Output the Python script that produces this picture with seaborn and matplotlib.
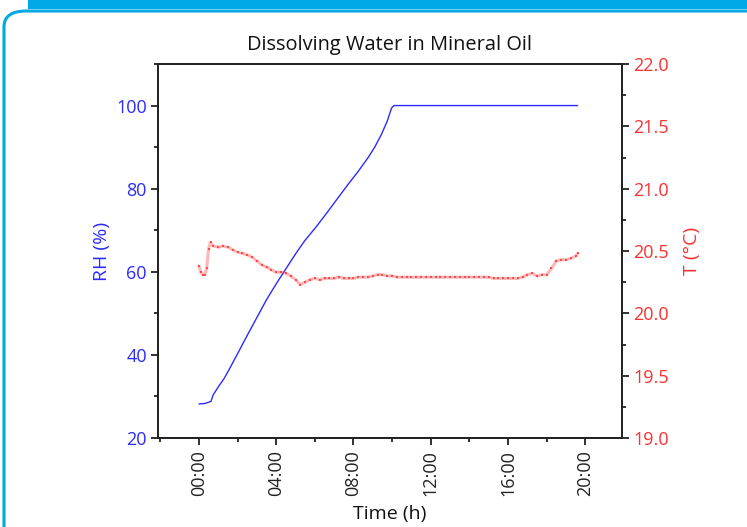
import matplotlib
matplotlib.use("Agg")
import matplotlib.pyplot as plt
from matplotlib.patches import FancyBboxPatch, Rectangle
from matplotlib.ticker import MultipleLocator, FuncFormatter
import numpy as np
import pandas as pd
import seaborn as sns

# Relative humidity of the oil (%) over elapsed time (h)
rh_time = [0.00, 0.30, 0.62, 0.74, 1.00, 1.30, 1.60, 2.00, 2.50, 3.00, 3.50,
           4.00, 4.50, 5.00, 5.48, 6.10, 6.69, 7.20, 7.73, 8.25, 8.76, 9.10,
           9.45, 9.75, 9.97, 10.10, 12.00, 14.00, 16.00, 18.00, 19.60]
rh_value = [28.2, 28.3, 28.8, 30.4, 32.3, 34.3, 36.8, 40.3, 44.7, 49.0, 53.3,
            57.1, 60.7, 64.3, 67.5, 71.0, 74.6, 77.8, 81.1, 84.2, 87.5, 90.0,
            93.1, 96.3, 99.4, 100.0, 100.0, 100.0, 100.0, 100.0, 100.0]

# Oil temperature (°C) over elapsed time (h)
t_time = [0.00, 0.10, 0.20, 0.30, 0.40, 0.50, 0.60, 0.75, 1.00, 1.25, 1.50,
          1.75, 2.00, 2.25, 2.50, 2.75, 3.00, 3.25, 3.50, 3.75, 4.00, 4.25,
          4.50, 4.75, 5.00, 5.25, 5.50, 5.75, 6.00, 6.25, 6.50, 6.75, 7.00,
          7.25, 7.50, 7.75, 8.00, 8.25, 8.50, 8.75, 9.00, 9.25, 9.50, 9.75,
          10.00, 10.25, 10.50, 10.75, 11.00, 11.25, 11.50, 11.75, 12.00,
          12.25, 12.50, 12.75, 13.00, 13.25, 13.50, 13.75, 14.00, 14.25,
          14.50, 14.75, 15.00, 15.25, 15.50, 15.75, 16.00, 16.25, 16.50,
          16.75, 17.00, 17.25, 17.50, 17.75, 18.00, 18.25, 18.50, 18.75,
          19.00, 19.25, 19.50, 19.60]
t_value = [20.38, 20.33, 20.31, 20.31, 20.36, 20.52, 20.57, 20.54, 20.53,
           20.54, 20.53, 20.51, 20.49, 20.48, 20.47, 20.45, 20.42, 20.39,
           20.37, 20.35, 20.33, 20.33, 20.32, 20.30, 20.27, 20.23, 20.25,
           20.27, 20.28, 20.27, 20.28, 20.28, 20.28, 20.29, 20.28, 20.28,
           20.28, 20.29, 20.29, 20.29, 20.30, 20.31, 20.31, 20.30, 20.30,
           20.29, 20.29, 20.29, 20.29, 20.29, 20.29, 20.29, 20.29, 20.29,
           20.29, 20.29, 20.29, 20.29, 20.29, 20.29, 20.29, 20.29, 20.29,
           20.29, 20.29, 20.28, 20.28, 20.28, 20.28, 20.28, 20.28, 20.29,
           20.31, 20.32, 20.30, 20.31, 20.31, 20.36, 20.42, 20.43, 20.43,
           20.44, 20.46, 20.48]

x_ticks = [0, 4, 8, 12, 16, 20]

BLUE = "#2b2bff"
RED = "#ff3030"
FRAME = "#00a9e6"
SPINE = "#222222"

sns.set_style("ticks")
plt.rcParams["font.family"] = ["Open Sans", "DejaVu Sans"]

rh_df = pd.DataFrame({"time": rh_time, "rh": rh_value})
t_df = pd.DataFrame({"time": t_time, "temp": t_value})

fig = plt.figure(figsize=(7.47, 5.27), dpi=100)
ax = fig.add_axes([158 / 747, 1 - 438 / 527, (622 - 158) / 747, (438 - 64) / 527])
ax2 = ax.twinx()

sns.lineplot(data=rh_df, x="time", y="rh", ax=ax, color=BLUE, linewidth=1.0)
# temperature readings: faint thick trace with small square samples on top
sns.lineplot(data=t_df, x="time", y="temp", ax=ax2, color=RED, linewidth=2.2,
             alpha=0.35)
sns.lineplot(data=t_df, x="time", y="temp", ax=ax2, color=RED, linewidth=0,
             alpha=0.8, marker="s", markersize=2.0, markeredgewidth=0)

ax.set_xlim(-2.12, 21.9)
ax.set_ylim(20, 110)
ax2.set_ylim(19.0, 22.0)

ax.xaxis.set_major_locator(MultipleLocator(4))
ax.xaxis.set_minor_locator(MultipleLocator(2))
ax.xaxis.set_major_formatter(FuncFormatter(lambda v, p: f"{int(round(v)):02d}:00"))
ax.yaxis.set_major_locator(MultipleLocator(20))
ax.yaxis.set_minor_locator(MultipleLocator(10))
ax2.yaxis.set_major_locator(MultipleLocator(0.5))
ax2.yaxis.set_minor_locator(MultipleLocator(0.25))
ax2.yaxis.set_major_formatter(FuncFormatter(lambda v, p: f"{v:.1f}"))

for a in (ax, ax2):
    for s in a.spines.values():
        s.set_visible(True)
        s.set_color(SPINE)
        s.set_linewidth(1.3)

ax.tick_params(axis="x", which="major", direction="out", length=5, width=1.3,
               color=SPINE, labelsize=13, labelcolor="#222222", labelrotation=90, pad=4)
ax.tick_params(axis="x", which="minor", direction="out", length=3, width=1.3, color=SPINE)
ax.tick_params(axis="y", which="major", direction="out", length=5, width=1.3,
               color=SPINE, labelsize=13, labelcolor=BLUE, pad=3)
ax.tick_params(axis="y", which="minor", direction="out", length=3, width=1.3, color=SPINE)
ax2.tick_params(axis="y", which="major", direction="out", length=5, width=1.3,
                color=SPINE, labelsize=13, labelcolor=RED, pad=3)
ax2.tick_params(axis="y", which="minor", direction="out", length=3, width=1.3, color=SPINE)

ax.set_xlabel("Time (h)", fontsize=14, color="#111111", labelpad=6)
ax.set_ylabel("RH (%)", fontsize=14, color=BLUE, labelpad=4)
ax2.set_ylabel("T (°C)", fontsize=14, color=RED, labelpad=10)
ax.set_title("Dissolving Water in Mineral Oil", fontsize=14.4, color="#111111", pad=10)

# Rounded card border and the header bar above it
card = FancyBboxPatch((4 / 747, -0.05), 1.2, (527 - 11) / 527 + 0.05,
                      boxstyle="round,pad=0,rounding_size=0.03",
                      transform=fig.transFigure, facecolor="none",
                      edgecolor=FRAME, linewidth=2.2, clip_on=False, zorder=0)
fig.add_artist(card)
fig.add_artist(Rectangle((28 / 747, 1 - 9 / 527), 1.0, 9 / 527,
                         transform=fig.transFigure, facecolor=FRAME,
                         edgecolor="none", zorder=0))

fig.savefig("out.png", dpi=100)
